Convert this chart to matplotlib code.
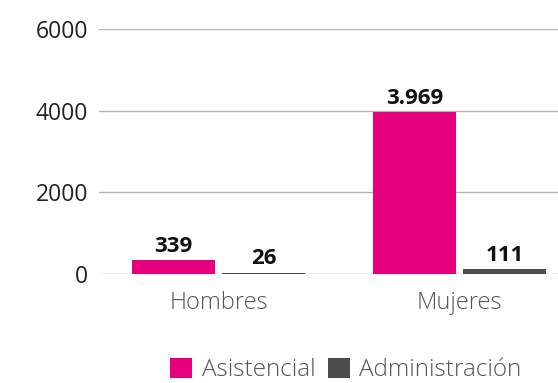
import numpy as np
import matplotlib.pyplot as plt

plt.rcParams['font.family'] = ['Open Sans', 'DejaVu Sans']

# Personal por sexo y tipo de cargo
categorias = ['Hombres', 'Mujeres']
asistencial = [339, 3969]
administracion = [26, 111]
etiquetas_asis = ['339', '3.969']
etiquetas_admin = ['26', '111']

rosa = '#e6007e'
gris = '#4d4d4d'

fig = plt.figure(figsize=(5.58, 3.83), dpi=100)
ax = fig.add_axes([0.1774, 0.2846, 0.8226, 0.6394])

x = np.arange(len(categorias))
ancho = 0.344
b1 = ax.bar(x - 0.187, asistencial, ancho, color=rosa, label='Asistencial', zorder=3)
b2 = ax.bar(x + 0.187, administracion, ancho, color=gris, label='Administración', zorder=3)

for barras, textos in [(b1, etiquetas_asis), (b2, etiquetas_admin)]:
    for b, t in zip(barras, textos):
        ax.annotate(t, (b.get_x() + b.get_width() / 2, b.get_height()),
                    xytext=(0, 2.5), textcoords='offset points',
                    ha='center', va='bottom', fontsize=16, fontweight='bold',
                    color='#111111')

ax.set_ylim(0, 6000)
ax.set_xlim(-0.496, 1.409)
ax.set_yticks([0, 2000, 4000, 6000])
ax.set_xticks(x)
ax.set_xticklabels(categorias, fontweight='light')
ax.grid(axis='y', color='#b5b5b5', linewidth=1, zorder=0)
for s in ax.spines.values():
    s.set_visible(False)
ax.tick_params(axis='both', length=0)
ax.tick_params(axis='y', pad=8, labelcolor='#222222', labelsize=16.5)
ax.tick_params(axis='x', pad=12, labelcolor='#555555', labelsize=17)

fig.legend(loc='center', bbox_to_anchor=(0.62, 0.034), ncol=2, frameon=False,
           prop={'size': 17.5, 'weight': 'light'}, handlelength=0.9,
           handleheight=0.9, handletextpad=0.4, columnspacing=0.5,
           labelcolor='#555555')

fig.savefig('out.png', dpi=100)
